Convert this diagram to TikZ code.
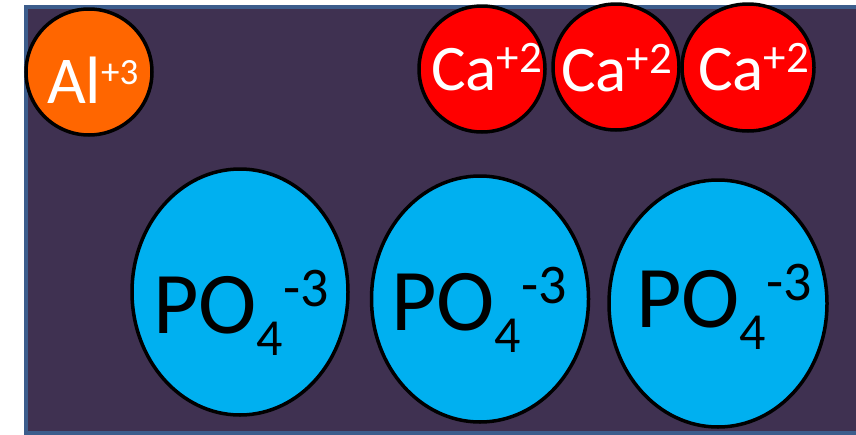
\documentclass[tikz,border=0pt]{standalone}
\usepackage{fontspec}
\setmainfont{Carlito}
\usetikzlibrary{shapes.geometric}
\definecolor{bgpurple}{HTML}{3F3151}
\definecolor{frameblue}{HTML}{3C5D8C}
\definecolor{alorange}{HTML}{FF6600}
\definecolor{cared}{HTML}{FF0000}
\definecolor{poblue}{HTML}{00B0F0}
\newcommand{\fs}[1]{\fontsize{#1}{#1}\selectfont}
\newcommand{\allabel}{{\fs{67}Al\raisebox{19pt}{\fs{37}+3}}}
\newcommand{\calabel}{{\fs{65}Ca\raisebox{18pt}{\fs{45}+2}}}
\newcommand{\polabel}{{\fs{88}PO\raisebox{-22pt}{\fs{52}4}\raisebox{27pt}{\fs{56}-3}}}
\tikzset{
  ion/.style={circle, draw=black, line width=3.5pt, inner sep=0pt},
  anion/.style={ellipse, draw=black, line width=3.5pt, fill=poblue, inner sep=0pt},
  txt/.style={anchor=base west, inner sep=0pt, outer sep=0pt}
}
\begin{document}
\begin{tikzpicture}[x=1pt,y=-1pt]
\useasboundingbox (0,0) rectangle (856,434);
\node[draw=frameblue, line width=4pt, fill=bgpurple, rectangle, minimum width=850pt, minimum height=426pt, inner sep=0pt, anchor=north west] (bg) at (24,5) {};
% Al
\node[ion, fill=alorange, minimum size=126pt] (al) at (89,72) {};
\node[txt, text=white] (alt) at (47,103) {\allabel};
% Ca
\node[ion, fill=cared, minimum size=126pt] (ca1) at (482,69) {};
\node[ion, fill=cared, minimum size=126pt] (ca2) at (616,67) {};
\node[ion, fill=cared, minimum width=132pt, minimum height=127pt, ellipse, inner sep=0pt] (ca3) at (748,67.5) {};
\node[txt, text=white] (ca1t) at (431,90) {\calabel};
\node[txt, text=white] (ca2t) at (561,91) {\calabel};
\node[txt, text=white] (ca3t) at (698,90) {\calabel};
% PO4
\node[anion, minimum width=216pt, minimum height=246pt] (po1) at (240,292) {};
\node[anion, minimum width=217pt, minimum height=246pt] (po2) at (480,299) {};
\node[anion, minimum width=218pt, minimum height=247pt] (po3) at (718,303.5) {};
\node[txt, text=black] (po1t) at (153,333) {\polabel};
\node[txt, text=black] (po2t) at (391,330) {\polabel};
\node[txt, text=black] (po3t) at (636,327) {\polabel};
\end{tikzpicture}
\end{document}
